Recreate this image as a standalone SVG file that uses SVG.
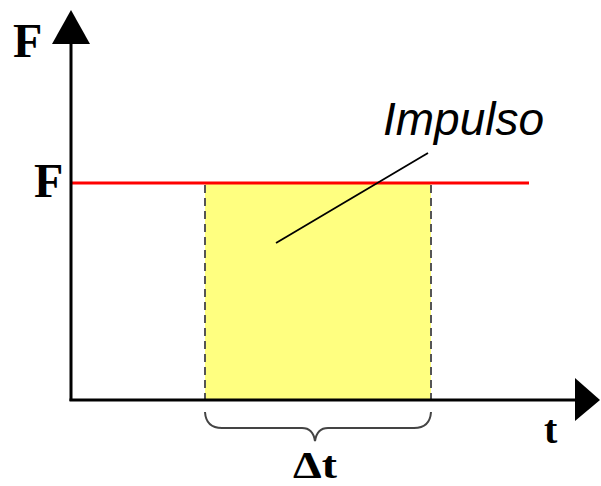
<svg xmlns="http://www.w3.org/2000/svg" width="601" height="486" viewBox="0 0 601 486">
<style>
.serif{font-family:"Liberation Serif","Times New Roman",serif;font-weight:bold;fill:#000}
.axis{stroke:#000;stroke-width:3;fill:none}
.dash{stroke:#555;stroke-width:2;stroke-dasharray:8 5;fill:none}
</style>
<rect width="601" height="486" fill="#fff"/>
<g id="area">
<rect x="205" y="183" width="226" height="217" fill="#FFFF80"/>
<line class="dash" x1="205" y1="185" x2="205" y2="400"/>
<line class="dash" x1="431" y1="185" x2="431" y2="400"/>
</g>
<g id="force-line">
<line x1="71" y1="183" x2="529" y2="183" stroke="#FF0000" stroke-width="3"/>
</g>
<g id="axes">
<line class="axis" x1="71" y1="401" x2="71" y2="40"/>
<polygon points="71,10 52,44 90,44" fill="#000"/>
<line class="axis" x1="69.5" y1="400" x2="578" y2="400"/>
<polygon points="600,400 575,378 575,421" fill="#000"/>
</g>
<g id="labels">
<text class="serif" x="13" y="57" font-size="48">F</text>
<text class="serif" x="34" y="197" font-size="48">F</text>
<text class="serif" x="544" y="443" font-size="40">t</text>
<text class="serif" x="293" y="478" font-size="37" textLength="44" lengthAdjust="spacingAndGlyphs">Δt</text>
</g>
<g id="brace">
<path d="M205,412 Q206,428 222,428 L302,428 Q313,428 315,441 Q317,428 328,428 L414,428 Q430,428 431,412" fill="none" stroke="#444" stroke-width="2"/>
</g>
<g id="impulso">
<text x="383" y="135" font-family="Liberation Sans, Arial, sans-serif" font-style="italic" font-size="46" fill="#000">Impulso</text>
<line x1="276" y1="243" x2="428" y2="153" stroke="#000" stroke-width="1.8"/>
</g>
</svg>
